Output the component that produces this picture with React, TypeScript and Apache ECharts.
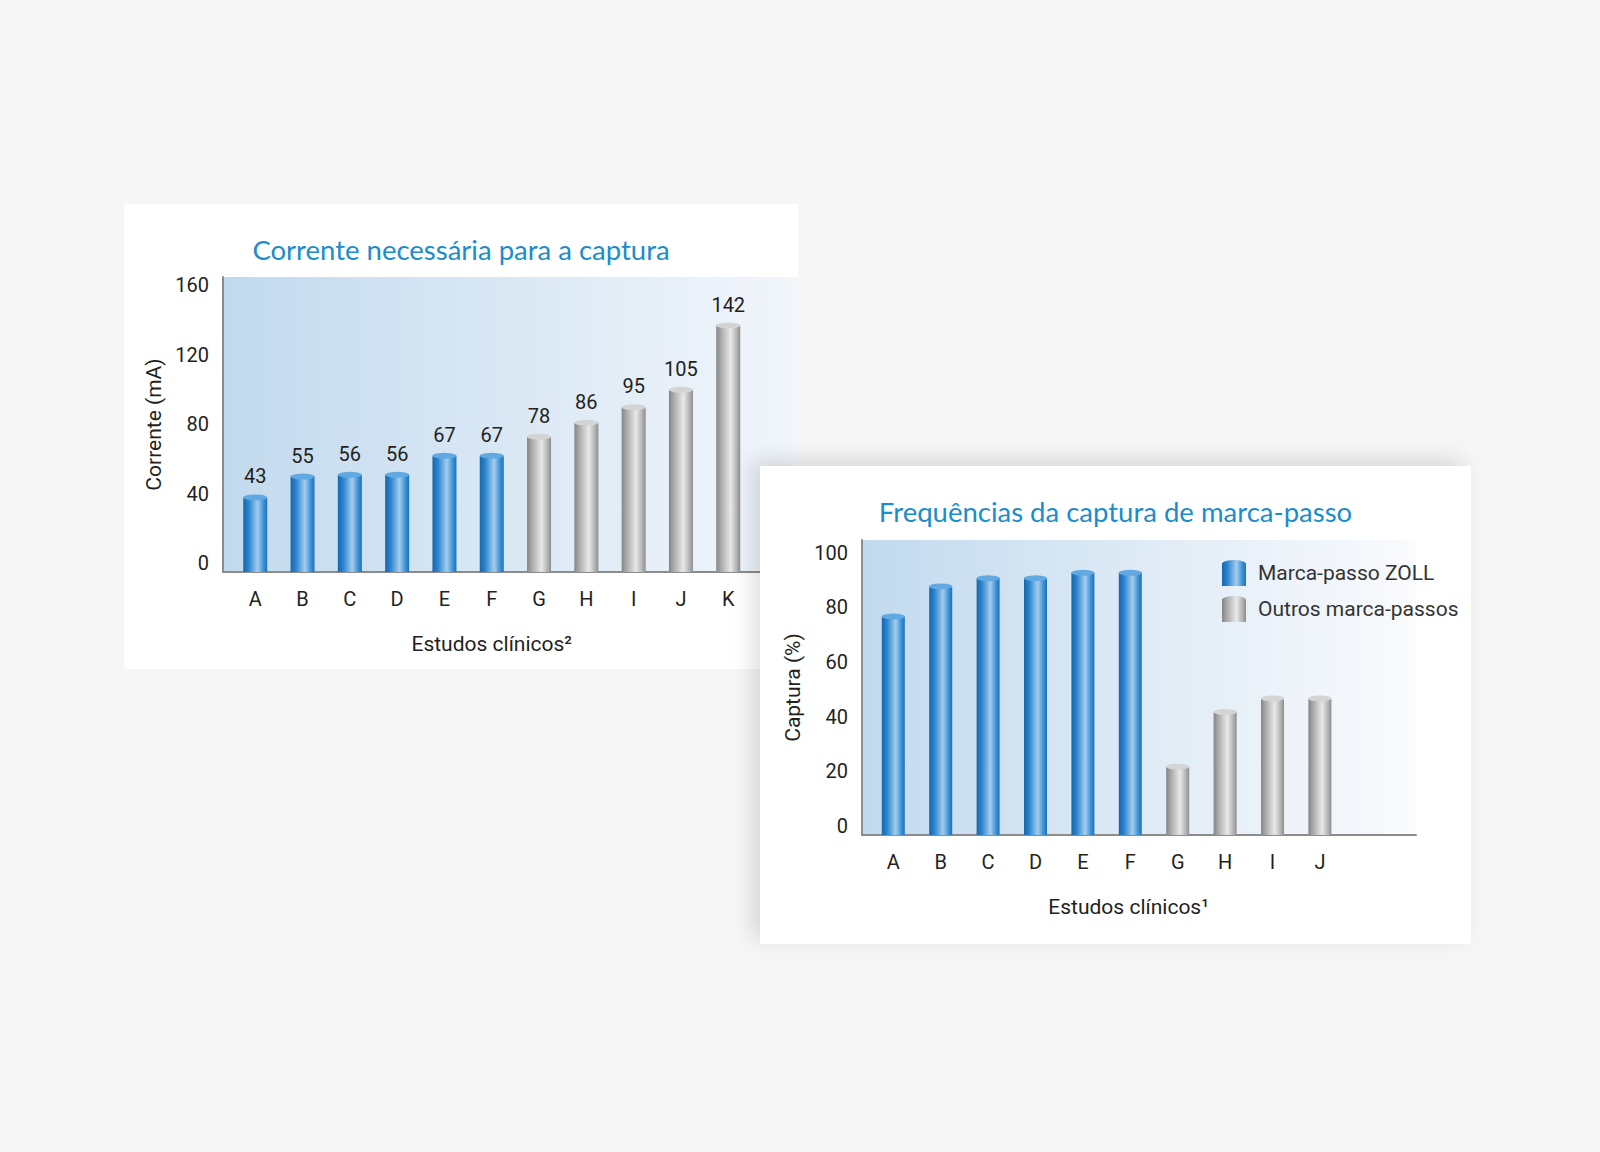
import React, { useEffect, useRef } from "react";
import * as echarts from "echarts";

// ---------- data ----------
const currentCategories = ["A", "B", "C", "D", "E", "F", "G", "H", "I", "J", "K"];
const currentValues = [43, 55, 56, 56, 67, 67, 78, 86, 95, 105, 142];
const currentZollCount = 6;
const currentTicks = { min: 0, max: 170, interval: 40 };

const captureCategories = ["A", "B", "C", "D", "E", "F", "G", "H", "I", "J"];
const captureValues = [80, 91, 94, 94, 96, 96, 25, 45, 50, 50];
const captureZollCount = 6;
const captureTicks = { min: 0, max: 108, interval: 20 };

const seriesNames = ["Marca-passo ZOLL", "Outros marca-passos"];

const titleCurrent = "Corrente necessária para a captura";
const titleCapture = "Frequências da captura de marca-passo";
const yNameCurrent = "Corrente (mA)";
const yNameCapture = "Captura (%)";
const xNameCurrent = "Estudos clínicos²";
const xNameCapture = "Estudos clínicos¹";

// ---------- styles ----------
const NARROW = "Roboto, 'Liberation Sans', sans-serif";
const TITLE_FONT = "Lato, 'Open Sans', sans-serif";
const TEXT = "#231f20";
const AXIS = "#8c8c8c";

const blueGrad = () =>
  new echarts.graphic.LinearGradient(0, 0, 1, 0, [
    { offset: 0, color: "#1766ad" },
    { offset: 0.22, color: "#2b83cd" },
    { offset: 0.6, color: "#a3cdef" },
    { offset: 0.85, color: "#3b90d5" },
    { offset: 1, color: "#1d71ba" },
  ]);
const greyGrad = () =>
  new echarts.graphic.LinearGradient(0, 0, 1, 0, [
    { offset: 0, color: "#858585" },
    { offset: 0.22, color: "#adadad" },
    { offset: 0.6, color: "#e8e8e8" },
    { offset: 0.85, color: "#b4b4b4" },
    { offset: 1, color: "#8c8c8c" },
  ]);
const bgGrad = (end: string) =>
  new echarts.graphic.LinearGradient(0, 0, 1, 0, [
    { offset: 0, color: "#c2daee" },
    { offset: 1, color: end },
  ]);

interface Cfg {
  title: string;
  categories: string[];
  values: number[];
  zollCount: number;
  ticks: { min: number; max: number; interval: number };
  yName: string;
  xName: string;
  frame: { left: number; top: number; width: number; height: number };
  dataLeft: number;
  band: number;
  barWidth: number;
  showLabels: boolean;
  legend: boolean;
  legendPos?: { left: number; top: number };
  bgEnd: string;
  xNameShift: number;
  yNameGap: number;
}

function buildOption(c: Cfg): any {
  const zoll = c.values.map((v, i) => (i < c.zollCount ? v : "-"));
  const other = c.values.map((v, i) => (i >= c.zollCount ? v : "-"));
  const dataWidth = c.band * c.categories.length;
  const labelCfg = {
    show: c.showLabels,
    position: "top",
    distance: 11,
    fontSize: 20,
    color: TEXT,
    fontFamily: NARROW,
  };
  const capBase = {
    type: "pictorialBar",
    xAxisIndex: 1,
    yAxisIndex: 1,
    symbol: "circle",
    symbolSize: [c.barWidth, 6],
    symbolPosition: "end",
    symbolOffset: [0, "-50%"],
    barGap: "-100%",
    z: 4,
    silent: true,
  };
  const opt: any = {
    animation: false,
    title: {
      text: c.title,
      left: "center",
      top: 26,
      textStyle: { fontSize: 27.5, fontWeight: 400, color: "#1b8dcb", fontFamily: TITLE_FONT },
    },
    grid: [
      {
        left: c.frame.left,
        top: c.frame.top,
        width: c.frame.width,
        height: c.frame.height,
        show: true,
        borderWidth: 0,
        backgroundColor: bgGrad(c.bgEnd),
      },
      {
        left: c.dataLeft,
        top: c.frame.top,
        width: dataWidth,
        height: c.frame.height,
      },
    ],
    xAxis: [
      {
        type: "value",
        gridIndex: 0,
        min: 0,
        max: 1,
        axisLine: { show: true, lineStyle: { color: AXIS, width: 2 } },
        axisTick: { show: false },
        axisLabel: { show: false },
        splitLine: { show: false },
      },
      {
        type: "category",
        gridIndex: 1,
        data: c.categories,
        axisLine: { show: false },
        axisTick: { show: false },
        axisLabel: { fontSize: 20, color: TEXT, fontFamily: NARROW, margin: 17, interval: 0 },
        name: c.xName,
        nameLocation: "middle",
        nameGap: 61,
        nameTextStyle: {
          fontSize: 21,
          color: TEXT,
          fontFamily: NARROW,
          padding: [0, 0, 0, c.xNameShift * 2],
        },
      },
    ],
    yAxis: [
      {
        type: "value",
        gridIndex: 0,
        min: c.ticks.min,
        max: c.ticks.max,
        interval: c.ticks.interval,
        axisLine: { show: true, lineStyle: { color: AXIS, width: 2 } },
        axisTick: { show: false },
        splitLine: { show: false },
        axisLabel: {
          showMaxLabel: false,
          fontSize: 20,
          color: TEXT,
          fontFamily: NARROW,
          margin: 14,
          verticalAlign: "bottom",
          lineHeight: 18,
        },
        name: c.yName,
        nameLocation: "middle",
        nameGap: c.yNameGap,
        nameTextStyle: { fontSize: 21, color: TEXT, fontFamily: NARROW },
      },
      {
        type: "value",
        gridIndex: 1,
        min: c.ticks.min,
        max: c.ticks.max,
        interval: c.ticks.interval,
        show: false,
      },
    ],
    series: [
      {
        name: seriesNames[0],
        type: "bar",
        xAxisIndex: 1,
        yAxisIndex: 1,
        data: zoll,
        barWidth: c.barWidth,
        barGap: "-100%",
        itemStyle: { color: blueGrad() },
        label: labelCfg,
        z: 3,
      },
      {
        name: seriesNames[1],
        type: "bar",
        xAxisIndex: 1,
        yAxisIndex: 1,
        data: other,
        barWidth: c.barWidth,
        barGap: "-100%",
        itemStyle: { color: greyGrad() },
        label: labelCfg,
        z: 3,
      },
      { ...capBase, name: "capZ", data: zoll, itemStyle: { color: "#62a9e1" } },
      { ...capBase, name: "capO", data: other, itemStyle: { color: "#d4d4d4" } },
    ],
  };
  if (c.legend && c.legendPos) {
    opt.legend = {
      orient: "vertical",
      left: c.legendPos.left,
      top: c.legendPos.top,
      padding: 0,
      itemWidth: 24,
      itemHeight: 26,
      itemGap: 10,
      icon: "path://M0,4 A12,4 0 0 1 24,4 L24,26 L0,26 Z",
      selectedMode: false,
      textStyle: { fontSize: 21, color: "#333", fontFamily: NARROW, padding: [0, 0, 0, 7] },
      data: [
        { name: seriesNames[0], itemStyle: { color: blueGrad() } },
        { name: seriesNames[1], itemStyle: { color: greyGrad() } },
      ],
    };
  }
  return opt;
}

const cfgCurrent: Cfg = {
  title: titleCurrent,
  categories: currentCategories,
  values: currentValues,
  zollCount: currentZollCount,
  ticks: currentTicks,
  yName: yNameCurrent,
  xName: xNameCurrent,
  frame: { left: 99, top: 73, width: 575, height: 295 },
  dataLeft: 107.6,
  band: 47.3,
  barWidth: 24,
  showLabels: true,
  legend: false,
  bgEnd: "#f2f6fb",
  xNameShift: 0,
  yNameGap: 56,
};

const cfgCapture: Cfg = {
  title: titleCapture,
  categories: captureCategories,
  values: captureValues,
  zollCount: captureZollCount,
  ticks: captureTicks,
  yName: yNameCapture,
  xName: xNameCapture,
  frame: { left: 102, top: 74, width: 554, height: 295 },
  dataLeft: 109.6,
  band: 47.4,
  barWidth: 23,
  showLabels: false,
  legend: true,
  legendPos: { left: 462, top: 94 },
  bgEnd: "#fafbfd",
  xNameShift: 22,
  yNameGap: 54,
};

function Chart({ cfg, style }: { cfg: Cfg; style: React.CSSProperties }) {
  const ref = useRef<HTMLDivElement>(null);
  useEffect(() => {
    if (!ref.current) return;
    const chart = echarts.init(ref.current, undefined, { renderer: "svg" });
    chart.setOption(buildOption(cfg));
    return () => chart.dispose();
  }, [cfg]);
  return <div ref={ref} style={style} />;
}

export default function App() {
  useEffect(() => {
    document.body.style.margin = "0";
  }, []);
  return (
    <div
      style={{
        position: "fixed",
        left: 0,
        top: 0,
        width: 1600,
        height: 1152,
        background: "#f6f6f6",
        overflow: "hidden",
      }}
    >
      <Chart
        cfg={cfgCurrent}
        style={{ position: "absolute", left: 124, top: 204, width: 674, height: 465, background: "#ffffff" }}
      />
      <Chart
        cfg={cfgCapture}
        style={{
          position: "absolute",
          left: 760,
          top: 466,
          width: 711,
          height: 478,
          background: "#ffffff",
          boxShadow: "-8px -6px 20px rgba(0,0,0,0.13)",
        }}
      />
    </div>
  );
}
